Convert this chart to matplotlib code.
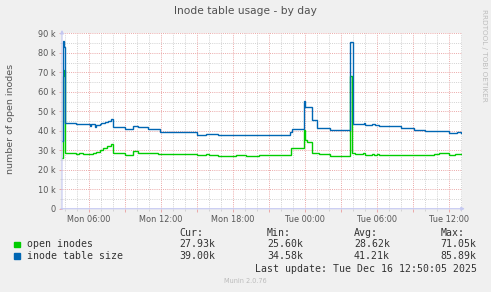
import matplotlib
matplotlib.use("Agg")
import matplotlib.pyplot as plt
from matplotlib.patches import Rectangle
from matplotlib.ticker import MultipleLocator, FixedLocator, FuncFormatter

# ---------------- data (hours since Mon 00:00, values in thousands) -------------
size_hours = [3.75, 3.83, 3.95, 4.03, 4.94, 6.05, 6.19, 6.47, 6.61, 6.89, 7.03, 7.31,
              7.58, 7.81, 8.03, 8.97, 9.67, 10.08, 10.92, 11.89, 15.03, 15.75, 16.78,
              22.78, 22.9, 23.94, 24.03, 24.17, 24.55, 25.0, 26.11, 27.78, 28.03, 28.89,
              29.03, 29.58, 29.81, 30.14, 32.03, 33.06, 34.03, 36.03, 36.67, 37.0]
size_k = [34.5, 85.9, 83.0, 43.9, 43.4, 42.6, 43.3, 42.1, 42.8, 43.3, 43.8, 44.3,
          45.1, 45.8, 42.0, 40.9, 42.6, 41.9, 40.7, 39.4, 37.8, 38.3, 37.7,
          39.5, 41.0, 55.4, 52.3, 52.0, 45.5, 41.4, 40.6, 85.6, 43.3, 43.8,
          42.7, 43.3, 42.7, 42.2, 41.2, 40.4, 39.8, 38.7, 39.2, 39.0]

open_hours = [3.75, 3.83, 3.9, 3.98, 4.03, 4.94, 5.2, 5.5, 6.05, 6.3, 6.6, 6.9, 7.2,
              7.5, 7.8, 8.03, 8.97, 9.67, 10.08, 11.75, 15.03, 15.75, 16.03, 16.78,
              18.25, 19.08, 20.19, 22.86, 23.94, 24.03, 24.2, 24.55, 25.2, 26.11, 27.78,
              27.95, 28.14, 28.8, 29.03, 29.58, 29.75, 29.98, 30.14, 31.95, 32.1, 34.72,
              35.14, 36.03, 36.53, 37.0]
open_k = [25.8, 68.0, 71.05, 60.0, 28.4, 28.0, 28.4, 28.0, 28.2, 28.5, 29.0, 30.0, 31.0,
          32.0, 33.2, 28.7, 27.5, 29.4, 28.7, 28.0, 27.4, 28.0, 27.4, 26.9,
          27.4, 26.9, 27.4, 31.1, 40.4, 35.0, 34.2, 28.6, 28.1, 26.9, 68.0,
          28.5, 28.0, 28.4, 27.4, 27.9, 27.4, 27.9, 27.4, 27.8, 27.4, 27.9,
          28.4, 27.4, 27.9, 27.93]

series_names = ["open inodes", "inode table size"]
series_colors = ["#00CC00", "#0066B3"]
cur_vals = ["27.93k", "39.00k"]
min_vals = ["25.60k", "34.58k"]
avg_vals = ["28.62k", "41.21k"]
max_vals = ["71.05k", "85.89k"]

x_tick_hours = [6, 12, 18, 24, 30, 36]
x_tick_labels = ["Mon 06:00", "Mon 12:00", "Mon 18:00", "Tue 00:00", "Tue 06:00", "Tue 12:00"]

title = "Inode table usage - by day"
ylabel = "number of open inodes"
last_update = "Last update: Tue Dec 16 12:50:05 2025"

# ---------------- figure -------------
W, H = 491, 292
fig = plt.figure(figsize=(W / 100, H / 100), dpi=100, facecolor="#F0F0F0")

def fx(x):
    return x / W

def fy(y):
    return 1 - y / H

left, right, top, bottom = 62, 462, 33.3, 208.7
ax = fig.add_axes([fx(left), fy(bottom), (right - left) / W, (bottom - top) / H])
ax.set_facecolor("white")

ax.set_xlim(3.75, 37.08)
ax.set_ylim(0, 90)

minor_c = "#D2D2D2"
major_c = "#EBA8A8"
ax.xaxis.set_major_locator(MultipleLocator(3))
ax.xaxis.set_minor_locator(MultipleLocator(1))
ax.yaxis.set_major_locator(MultipleLocator(10))
ax.yaxis.set_minor_locator(MultipleLocator(5))

lab = dict(zip(x_tick_hours, x_tick_labels))
ax.xaxis.set_major_formatter(FuncFormatter(lambda v, p: lab.get(int(round(v)), "")))
ax.yaxis.set_major_formatter(FuncFormatter(lambda v, p: "0" if v == 0 else f"{int(v)} k"))

ax.grid(which="minor", color=minor_c, linestyle=(0, (1, 1.2)), linewidth=0.7)
ax.grid(which="major", color=major_c, linestyle=(0, (1, 1.2)), linewidth=0.7)
ax.set_axisbelow(True)

for s in ax.spines.values():
    s.set_visible(False)

ax.tick_params(which="major", length=2.5, width=0.7, color=major_c, labelsize=5.9,
               labelcolor="#555555", pad=2)
ax.tick_params(which="minor", length=1.5, width=0.7, color=minor_c)

ax.plot(open_hours, open_k, drawstyle="steps-post", color=series_colors[0], lw=1.0,
        solid_joinstyle="miter")
ax.plot(size_hours, size_k, drawstyle="steps-post", color=series_colors[1], lw=1.0,
        solid_joinstyle="miter")

axis_c = "#C4C8F2"
ax.annotate("", xy=(1.014, 0), xytext=(-0.01, 0), xycoords="axes fraction",
            arrowprops=dict(arrowstyle="-|>", color=axis_c, lw=0.8, mutation_scale=5),
            annotation_clip=False)
ax.annotate("", xy=(0, 1.035), xytext=(0, -0.02), xycoords="axes fraction",
            arrowprops=dict(arrowstyle="-|>", color=axis_c, lw=0.8, mutation_scale=5),
            annotation_clip=False)

# ---------------- texts -------------
fig.text(fx(245), fy(11.5), title, ha="center", va="center", fontsize=7.7, color="#505050")
fig.text(fx(11), fy(119), ylabel, ha="center", va="center", rotation=90, fontsize=6.8,
         color="#555555")
fig.text(fx(484), fy(55), "RRDTOOL / TOBI OETIKER", ha="center", va="center",
         rotation=270, fontsize=5.2, color="#BDBDBD")

mono = dict(family="DejaVu Sans Mono", fontsize=7.1, color="#333333", va="center")
hdr_y = 233.3
rows_y = [244.3, 255.8]
col_x = [179, 267, 354]
fig.text(fx(col_x[0]), fy(hdr_y), "Cur:", ha="left", **mono)
fig.text(fx(col_x[1]), fy(hdr_y), "Min:", ha="left", **mono)
fig.text(fx(col_x[2]), fy(hdr_y), "Avg:", ha="left", **mono)
fig.text(fx(441), fy(hdr_y), "Max:", ha="left", **mono)
for i in range(2):
    y = rows_y[i]
    fig.patches.append(Rectangle((fx(14), fy(y + 2.8)), 5.5 / W, 5.5 / H,
                                 transform=fig.transFigure, color=series_colors[i]))
    fig.text(fx(27), fy(y), series_names[i], ha="left", **mono)
    fig.text(fx(col_x[0]), fy(y), cur_vals[i], ha="left", **mono)
    fig.text(fx(col_x[1]), fy(y), min_vals[i], ha="left", **mono)
    fig.text(fx(col_x[2]), fy(y), avg_vals[i], ha="left", **mono)
    fig.text(fx(476.7), fy(y), max_vals[i], ha="right", **mono)
fig.text(fx(476.7), fy(268.8), last_update, ha="right", **mono)
fig.text(fx(245), fy(281), "Munin 2.0.76", ha="center", va="center", fontsize=4.7,
         color="#BBBBBB")

fig.savefig("out.png", dpi=100, facecolor=fig.get_facecolor())
